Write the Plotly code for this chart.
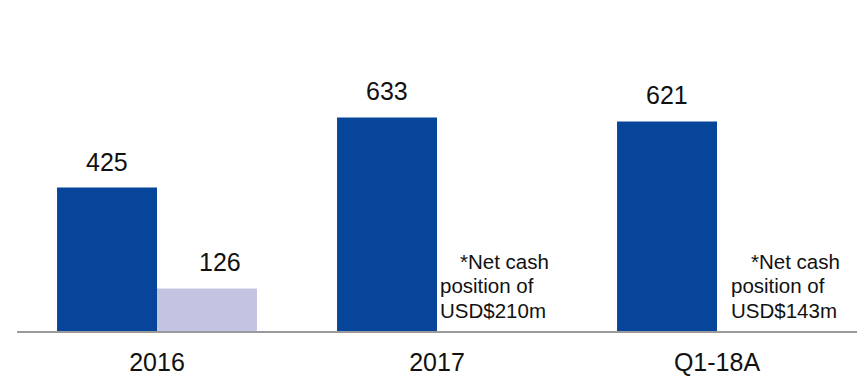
import plotly.graph_objects as go

# Categories and series values
periods = ["2016", "2017", "Q1-18A"]
primary = [425, 633, 621]
secondary = [126, None, None]
notes = {
    "2017": ["*Net cash", "position of", "USD$210m"],
    "Q1-18A": ["*Net cash", "position of", "USD$143m"],
}

DARK = "#07459B"
LIGHT = "#C3C4E1"
FONT = "Liberation Sans, Arial, sans-serif"
INK = "#111111"

fig = go.Figure()
fig.add_bar(x=periods, y=primary, marker=dict(color=DARK, line=dict(width=0)), showlegend=False)
fig.add_bar(x=periods, y=secondary, marker=dict(color=LIGHT, line=dict(width=0)), showlegend=False)

annotations = []
# value labels above each bar (x given as category index)
for idx, val in enumerate(primary):
    annotations.append(dict(x=idx, y=val, text=str(val), showarrow=False, xshift=-50,
                            yanchor="bottom", yshift=10,
                            font=dict(family=FONT, size=25, color=INK)))
for idx, val in enumerate(secondary):
    if val is not None:
        annotations.append(dict(x=idx, y=val, text=str(val), showarrow=False, xshift=63,
                                yanchor="bottom", yshift=10,
                                font=dict(family=FONT, size=25, color=INK)))

# net cash notes beside the bars
note_xshift = {"2017": 1, "Q1-18A": 12}
line_yshift = [56, 32, 7]
for cat, lines in notes.items():
    idx = periods.index(cat)
    for i, line in enumerate(lines):
        indent = 20 if i == 0 else 0
        annotations.append(dict(x=idx, y=0, text=line, showarrow=False, xanchor="left",
                                xshift=note_xshift[cat] + indent, yanchor="bottom",
                                yshift=line_yshift[i],
                                font=dict(family=FONT, size=20.5, color=INK)))

fig.update_layout(
    width=858, height=376,
    margin=dict(l=17, r=1, t=0, b=45),
    paper_bgcolor="white", plot_bgcolor="white",
    barmode="group", bargap=0.286, bargroupgap=0,
    annotations=annotations,
    xaxis=dict(type="category", categoryorder="array", categoryarray=periods,
               range=[-0.5, 2.5], autorange=False,
               showline=True, linecolor="#9a9a9a", linewidth=2, ticks="",
               showgrid=False, tickfont=dict(family=FONT, size=25, color=INK),
               ticklabelstandoff=8),
    yaxis=dict(range=[0, 981], autorange=False, visible=False, showgrid=False, zeroline=False),
)

fig.write_html("out.html")
